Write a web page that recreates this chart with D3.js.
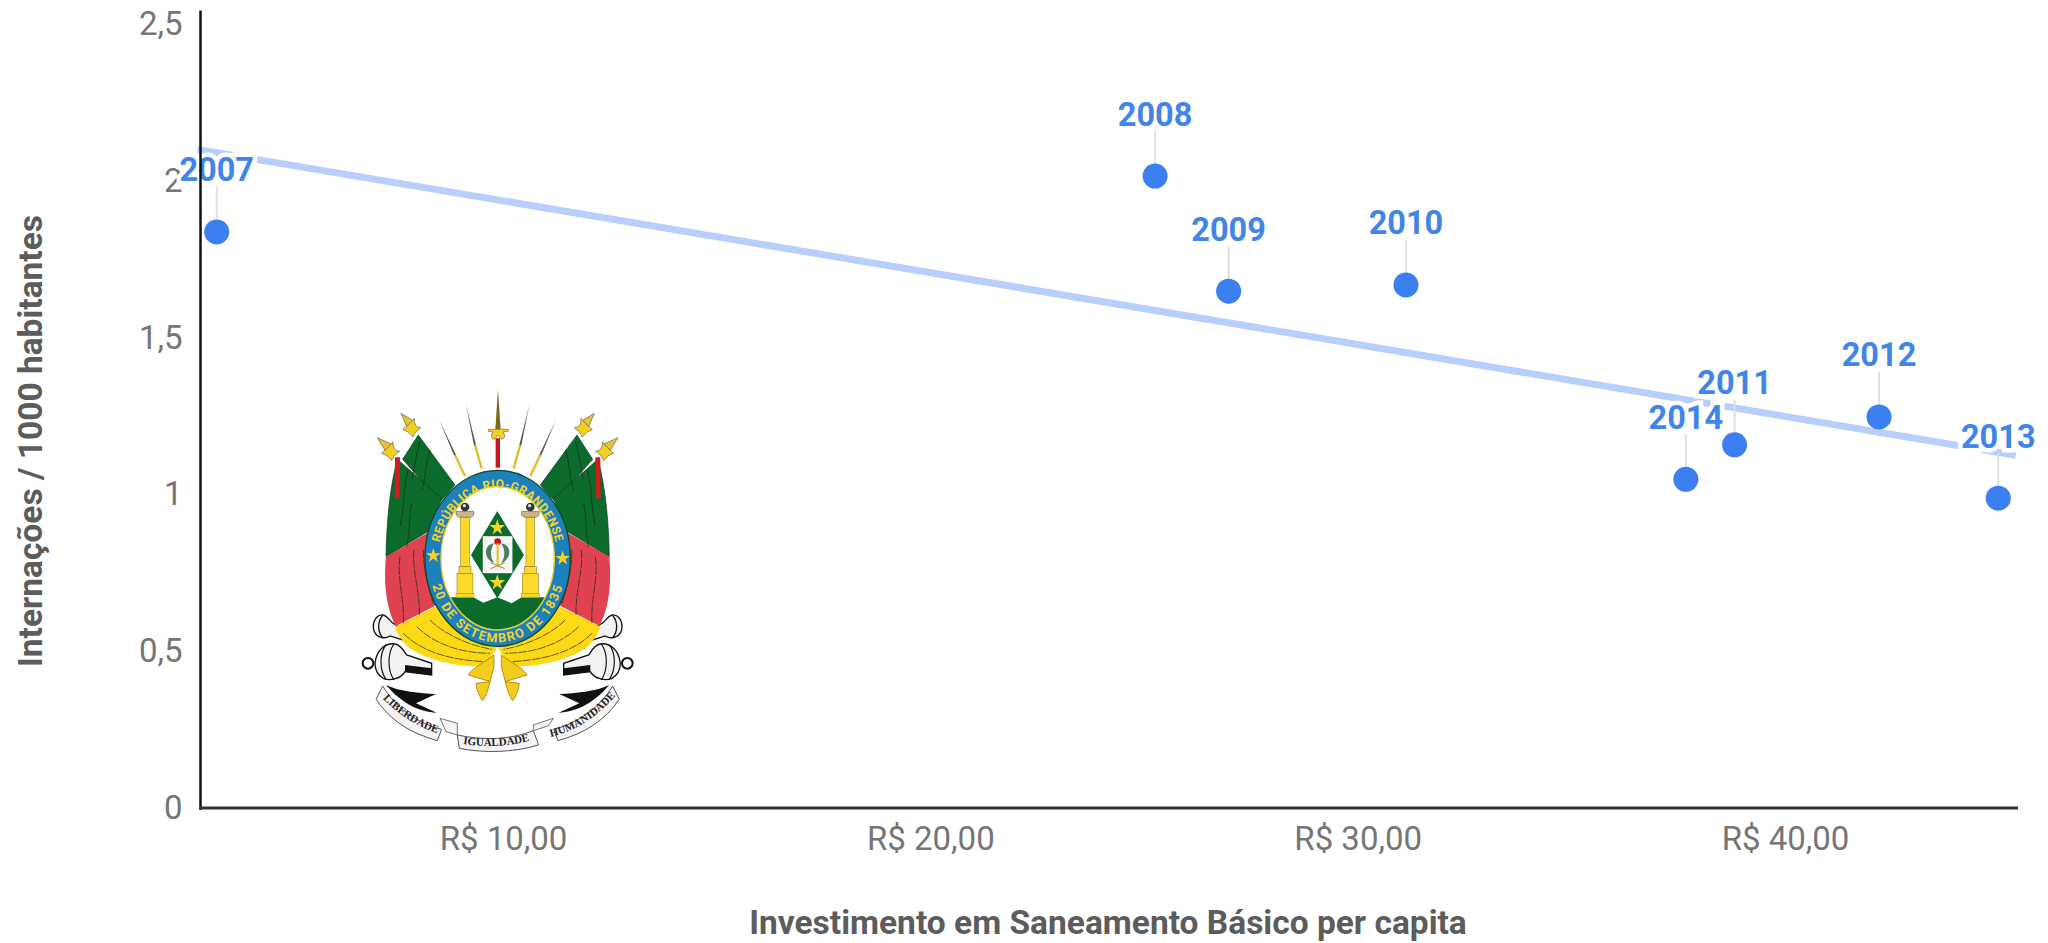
<!DOCTYPE html>
<html><head><meta charset="utf-8">
<script src="https://cdn.jsdelivr.net/npm/d3@7/dist/d3.min.js"></script>
<style>html,body{margin:0;background:#fff;overflow:hidden}svg{display:block;font-family:Roboto,sans-serif}</style>
</head><body><svg id="c" width="2048" height="943"></svg>
<script>
const years=["2007","2008","2009","2010","2011","2012","2013","2014"];
const investimento=[3.3,25.26,26.98,31.13,38.82,42.2,44.99,37.68];
const internacoes=[1.837,2.015,1.648,1.668,1.158,1.247,0.988,1.048];
const trendX=[2.85,45.4];
const trendY=[2.1,1.125];
const xTicks=[10,20,30,40];
const xTickLabels=["R$ 10,00","R$ 20,00","R$ 30,00","R$ 40,00"];
const yTicks=[0,0.5,1,1.5,2,2.5];
const yTickLabels=["0","0,5","1","1,5","2","2,5"];
const xTitle="Investimento em Saneamento Básico per capita";
const yTitle="Internações / 1000 habitantes";

const svg=d3.select("#c");
const x=d3.scaleLinear().domain([10,40]).range([503,1785]);
const y=d3.scaleLinear().domain([0,2.5]).range([808,24]);
const X0=200.5,X1=2018,YTOP=10.5,Y0=808;

const ax=svg.append("g").attr("transform",`translate(${X0},0)`)
  .call(d3.axisLeft(y).tickValues(yTicks).tickSize(0).tickPadding(18).tickFormat(d=>yTickLabels[yTicks.indexOf(d)]));
ax.select(".domain").remove();
ax.selectAll("text").attr("font-family","Roboto").attr("font-size",33).attr("fill","#757575");
const bx=svg.append("g").attr("transform",`translate(0,${Y0})`)
  .call(d3.axisBottom(x).tickValues(xTicks).tickSize(0).tickPadding(19).tickFormat(d=>xTickLabels[xTicks.indexOf(d)]));
bx.select(".domain").remove();
bx.selectAll("text").attr("font-family","Roboto").attr("font-size",33).attr("fill","#757575");

svg.append("text").attr("x",1108).attr("y",934).attr("text-anchor","middle")
  .attr("font-size",33.5).attr("font-weight",700).attr("fill","#5c5c5c").text(xTitle);
svg.append("text").attr("transform","translate(42,441) rotate(-90)").attr("text-anchor","middle")
  .attr("font-size",33.5).attr("font-weight",700).attr("fill","#5c5c5c").text(yTitle);

// emblem (drawn in a 960x1200 box, scaled to the picture)
const em=svg.append("g").attr("transform","translate(340,370) scale(0.3333)");
const defs=svg.append("defs");
defs.append("path").attr("id","ringTop").attr("d","M292,580 A181,226 0 0 1 654,580");
defs.append("path").attr("id","ringBot").attr("d","M266,565 A207,252 0 0 0 680,565");
defs.append("path").attr("id","ribL").attr("d","M128,985 C170,1030 230,1070 292,1090");
defs.append("path").attr("id","ribM").attr("d","M368,1122 C430,1132 510,1130 570,1112");
defs.append("path").attr("id","ribR").attr("d","M642,1098 C710,1080 770,1040 820,985");

function half(g){
  // cannons
  g.append("path").attr("d","M100,770 C100,745 115,733 130,735 C145,740 150,755 160,760 L205,790 L195,812 L150,798 C130,810 100,800 100,770 Z")
    .attr("fill","#f2f2f2").attr("stroke","#111").attr("stroke-width",4);
  g.append("path").attr("d","M128,736 C112,755 112,785 128,803").attr("fill","none").attr("stroke","#111").attr("stroke-width",4);
  g.append("path").attr("d","M105,880 C110,835 140,818 165,822 C185,825 195,850 200,855 L275,880 L275,915 L195,905 C185,925 150,935 130,925 C112,915 105,900 105,880 Z")
    .attr("fill","#f2f2f2").attr("stroke","#111").attr("stroke-width",4);
  g.append("path").attr("d","M138,824 C118,850 118,900 138,928 M162,822 C142,850 142,900 162,930").attr("fill","none").attr("stroke","#111").attr("stroke-width",3.5);
  g.append("path").attr("d","M195,885 L275,895 L275,915 L195,905 Z").attr("fill","#111");
  g.append("circle").attr("cx",84).attr("cy",880).attr("r",16).attr("fill","#fff").attr("stroke","#111").attr("stroke-width",6);
  // back flag, front flag
  g.append("path").attr("d","M235,195 L345,345 L300,395 L188,268 Z").attr("fill","#0b6b2b").attr("stroke","#063a18").attr("stroke-width",2);
  g.append("path").attr("d","M172,268 L305,385 L268,482 L138,560 C140,450 150,350 172,268 Z").attr("fill","#0b6b2b").attr("stroke","#063a18").attr("stroke-width",2);
  g.append("path").attr("d","M138,560 L268,485 L258,590 L290,705 L168,768 C140,720 130,640 138,560 Z").attr("fill","#e04350");
  g.append("path").attr("d","M165,770 L290,708 C330,770 400,815 472,832 L462,850 L432,888 C350,895 250,865 205,832 C185,812 172,792 165,770 Z").attr("fill","#fbd914");
  // folds
  ["M205,300 C190,340 195,400 180,470","M240,215 C225,260 225,300 215,330","M270,240 C255,280 260,320 245,360","M215,400 C205,450 210,490 200,530",
   "M180,560 C170,630 195,690 190,760","M222,540 C215,600 240,660 238,735","M250,540 C250,590 260,640 280,700",
   "M190,790 C250,850 340,870 430,875","M230,770 C280,820 360,850 450,850","M270,750 C310,790 380,825 455,838"]
   .forEach(d=>g.append("path").attr("d",d).attr("fill","none").attr("stroke","#1c1c1c").attr("stroke-width",2.5).attr("stroke-dasharray","26 3").attr("opacity",.8));
  // red cord
  g.append("path").attr("d","M165,262 L180,262 L178,385 L164,385 Z").attr("fill","#d01c1f");
  // fleur finials
  [[183,130,235,200],[112,203,178,268]].forEach(([a,b,c,d])=>{
    g.append("path").attr("d",`M${a},${b} L${(a+c)/2+12},${(b+d)/2-12} L${(a+c)/2-8},${(b+d)/2+8} Z`).attr("fill","#e8c23a").attr("stroke","#333").attr("stroke-width",1.5);
    const mx=(a+c)/2+4,my=(b+d)/2+6;
    g.append("path").attr("d",`M${mx-24},${my+8} Q${mx},${my-12} ${mx+10},${my-26} Q${mx+8},${my+2} ${mx+30},${my+2} Q${mx+12},${my+12} ${mx+6},${my+30} Q${mx-4},${my+14} ${mx-24},${my+8}Z`).attr("fill","#f3cf1f").attr("stroke","#333").attr("stroke-width",1.5);
  });
  // bayonets
  [[298,150,345,255,375,318],[378,105,405,225,425,295]].forEach(([a,b,c,d,e,f])=>{
    g.append("line").attr("x1",c).attr("y1",d).attr("x2",e).attr("y2",f).attr("stroke","#e2b92a").attr("stroke-width",7);
    g.append("path").attr("d",`M${a},${b} L${c+3},${d} L${c-3},${d+1} Z`).attr("fill","#555");
  });
  // black swallow
  g.append("path").attr("d","M138,945 C180,965 240,970 288,972 L228,1000 L290,1028 C240,1025 190,1005 138,945 Z").attr("fill","#111");
  // ribbon end
  g.append("path").attr("d","M128,948 C165,1010 230,1060 305,1078 L292,1112 C210,1090 150,1050 108,988 Z").attr("fill","#f4f4f4").attr("stroke","#333").attr("stroke-width",2.5);
  // tassel
  g.append("path").attr("d","M462,855 L462,890 L450,935 L385,915 C395,895 430,880 462,855 Z").attr("fill","#f5cb1c").attr("stroke","#8a6d00").attr("stroke-width",2);
  g.append("path").attr("d","M408,940 L450,935 C445,960 435,985 428,992 C420,985 410,960 408,940 Z").attr("fill","#f5cb1c").attr("stroke","#8a6d00").attr("stroke-width",2);
}
half(em.append("g"));
half(em.append("g").attr("transform","translate(946,0) scale(-1,1)"));
// central spear
em.append("rect").attr("x",467).attr("y",205).attr("width",13).attr("height",88).attr("fill","#c4161c");
em.append("path").attr("d","M474,58 L482,178 L466,178 Z").attr("fill","#7a6a20");
em.append("path").attr("d","M445,178 L505,178 L505,184 L490,186 Q500,205 484,208 L474,195 L464,208 Q448,205 458,186 L445,184 Z").attr("fill","#f3cf1f").attr("stroke","#444").attr("stroke-width",1.5);
// middle ribbon
em.append("path").attr("d","M352,1095 C430,1112 510,1110 580,1082 L596,1125 C520,1148 430,1150 358,1135 Z").attr("fill","#f4f4f4").attr("stroke","#333").attr("stroke-width",2.5);
em.append("path").attr("d","M300,1045 L352,1060 L352,1095 L318,1085 Z M640,1045 L580,1065 L580,1082 L625,1068 Z").attr("fill","#f4f4f4").attr("stroke","#333").attr("stroke-width",2);
[["ribL","LIBERDADE"],["ribM","IGUALDADE"],["ribR","HUMANIDADE"]].forEach(([id,t])=>{
  em.append("text").attr("font-family","Liberation Serif").attr("font-size",33).attr("font-weight",700).attr("fill","#222")
    .append("textPath").attr("href","#"+id).attr("startOffset","50%").attr("text-anchor","middle").text(t);
});
// ring
em.append("ellipse").attr("cx",473).attr("cy",565).attr("rx",218).attr("ry",264).attr("fill","#1c80bd").attr("stroke","#0d4a2a").attr("stroke-width",4);
em.append("ellipse").attr("cx",473).attr("cy",565).attr("rx",170).attr("ry",215).attr("fill","#fff").attr("stroke","#f3cf1f").attr("stroke-width",4);
em.append("clipPath").attr("id","inner").append("ellipse").attr("cx",473).attr("cy",565).attr("rx",168).attr("ry",213);
em.append("path").attr("clip-path","url(#inner)")
  .attr("d","M300,682 L400,682 L430,698 L472,682 L515,700 L545,682 L650,682 L650,790 L300,790 Z").attr("fill","#0b6b2b");
em.append("text").attr("font-size",36).attr("font-weight",700).attr("fill","#f5d428").attr("letter-spacing",1.5)
  .append("textPath").attr("href","#ringTop").attr("startOffset","50%").attr("text-anchor","middle").text("REPÚBLICA RIO-GRANDENSE");
em.append("text").attr("font-size",38).attr("font-weight",700).attr("fill","#f5d428").attr("letter-spacing",4.5)
  .append("textPath").attr("href","#ringBot").attr("startOffset","50%").attr("text-anchor","middle").text("20 DE SETEMBRO DE 1835");
const star=d3.symbol().type(d3.symbolStar);
[[280,557],[668,565]].forEach(([a,b])=>{
  em.append("path").attr("transform",`translate(${a},${b})`).attr("d",star.size(600)()).attr("fill","#f5d428");
});
// columns
[375,571].forEach(c=>{
  em.append("rect").attr("x",c-13).attr("y",440).attr("width",26).attr("height",150).attr("fill","#fbd92b").attr("stroke","#7a6a20").attr("stroke-width",1.5);
  em.append("rect").attr("x",c-18).attr("y",590).attr("width",36).attr("height",20).attr("fill","#fbd92b").attr("stroke","#7a6a20").attr("stroke-width",1.5);
  em.append("rect").attr("x",c-24).attr("y",610).attr("width",48).attr("height",60).attr("fill","#fbd92b").attr("stroke","#7a6a20").attr("stroke-width",1.5);
  em.append("rect").attr("x",c-27).attr("y",670).attr("width",54).attr("height",13).attr("fill","#fbd92b").attr("stroke","#7a6a20").attr("stroke-width",1);
  em.append("path").attr("d",`M${c-26},${424} L${c+26},${424} Q${c+30},${440} ${c+16},${442} L${c-16},${442} Q${c-30},${440} ${c-26},${424}Z`).attr("fill","#c9b58a").attr("stroke","#444").attr("stroke-width",1.5);
  em.append("circle").attr("cx",c).attr("cy",411).attr("r",13).attr("fill","#333");
  em.append("circle").attr("cx",c-2).attr("cy",407).attr("r",5).attr("fill","#ddd");
});
// diamond
em.append("path").attr("d","M472,423 L552,555 L472,685 L393,555 Z").attr("fill","#0b6b2b");
[[472,473],[472,638]].forEach(([a,b])=>em.append("path").attr("transform",`translate(${a},${b})`).attr("d",star.size(700)()).attr("fill","#f5d428"));
em.append("rect").attr("x",428).attr("y",498).attr("width",90).attr("height",112).attr("fill","#f6f6f6").attr("stroke","#0b6b2b").attr("stroke-width",1);
em.append("circle").attr("cx",473).attr("cy",515).attr("r",10).attr("fill","#c4161c");
em.append("rect").attr("x",470).attr("y",520).attr("width",6).attr("height",65).attr("fill","#e6bf1f");
em.append("path").attr("d","M462,520 C430,525 430,565 462,580 C450,560 450,540 462,520Z M484,520 C516,525 516,565 484,580 C496,560 496,540 484,520Z").attr("fill","#4d7a5c");
em.append("path").attr("d","M452,596 L494,578 M452,578 L494,596").attr("stroke","#a88a1a").attr("stroke-width",3);

// trend line
const line=d3.line().x(d=>x(d[0])).y(d=>y(d[1]));
svg.append("path").datum(trendX.map((v,i)=>[v,trendY[i]])).attr("d",line).attr("fill","none").attr("stroke","#b7cffa").attr("stroke-width",7);

const pts=years.map((yr,i)=>({yr,vx:investimento[i],vy:internacoes[i]}));
svg.append("g").selectAll("line").data(pts).join("line")
  .attr("x1",d=>x(d.vx)).attr("x2",d=>x(d.vx)).attr("y1",d=>y(d.vy)-45).attr("y2",d=>y(d.vy))
  .attr("stroke","#e0e0e0").attr("stroke-width",2);
svg.append("g").selectAll("circle").data(pts).join("circle")
  .attr("cx",d=>x(d.vx)).attr("cy",d=>y(d.vy)).attr("r",12.5).attr("fill","#3b7ff0");
svg.append("g").selectAll("text").data(pts).join("text")
  .attr("x",d=>x(d.vx)).attr("y",d=>y(d.vy)-50.5).attr("text-anchor","middle")
  .attr("font-size",32.5).attr("font-weight",700).attr("fill","#4285e8")
  .attr("stroke","#fff").attr("stroke-width",9).attr("paint-order","stroke").text(d=>d.yr);

// axis lines
svg.append("line").attr("x1",X0).attr("x2",X0).attr("y1",YTOP).attr("y2",Y0+2).attr("stroke","#111").attr("stroke-width",2.5);
svg.append("line").attr("x1",X0-1).attr("x2",X1).attr("y1",Y0).attr("y2",Y0).attr("stroke","#333").attr("stroke-width",3);
</script></body></html>
